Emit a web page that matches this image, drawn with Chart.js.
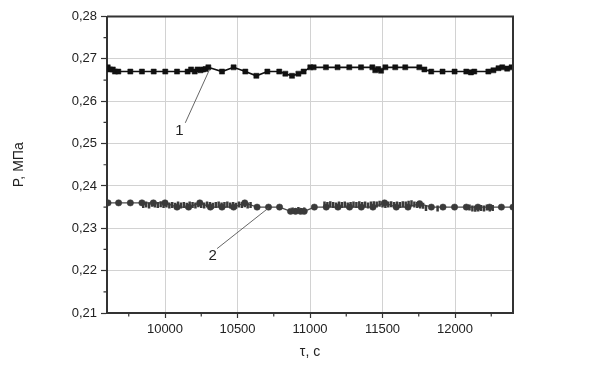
<!DOCTYPE html>
<html><head><meta charset="utf-8">
<script src="https://cdn.jsdelivr.net/npm/chart.js@4.4.1/dist/chart.umd.min.js"></script>
<style>html,body{margin:0;padding:0;background:#fff}#w{width:595px;height:368px}</style>
</head><body><div id="w"><canvas id="c" width="595" height="368"></canvas></div>
<script>
// ---- data ----
const xTicks = [10000, 10500, 11000, 11500, 12000];
const yTicks = [0.21, 0.22, 0.23, 0.24, 0.25, 0.26, 0.27, 0.28];
const xMinor = [9750, 10250, 10750, 11250, 11750, 12250];
const yMinor = [0.215, 0.225, 0.235, 0.245, 0.255, 0.265, 0.275];

const s1x = [9605, 9620, 9640, 9655, 9678, 9761, 9841, 9922, 10002, 10083, 10156, 10180, 10205, 10225, 10245, 10262, 10280, 10299, 10393, 10473, 10554, 10630, 10706, 10788, 10830, 10876, 10920, 10956, 11002, 11025, 11110, 11190, 11271, 11352, 11430, 11450, 11470, 11490, 11520, 11588, 11657, 11754, 11789, 11836, 11914, 11997, 12078, 12110, 12133, 12230, 12265, 12300, 12326, 12360, 12390];
const s1y = [0.268, 0.2675, 0.2675, 0.267, 0.267, 0.267, 0.267, 0.267, 0.267, 0.267, 0.267, 0.2675, 0.267, 0.2675, 0.2673, 0.2675, 0.2676, 0.268, 0.267, 0.268, 0.267, 0.266, 0.267, 0.267, 0.2665, 0.266, 0.2665, 0.267, 0.268, 0.268, 0.268, 0.268, 0.268, 0.268, 0.268, 0.2673, 0.2676, 0.2672, 0.268, 0.268, 0.268, 0.268, 0.2675, 0.267, 0.267, 0.267, 0.267, 0.2668, 0.267, 0.267, 0.2673, 0.2678, 0.268, 0.2677, 0.268];

const s2x = [9607, 9680, 9761, 9841, 9920, 10000, 10083, 10163, 10240, 10313, 10393, 10473, 10550, 10635, 10714, 10790, 10866, 10900, 10935, 10960, 11030, 11112, 11193, 11273, 11354, 11434, 11514, 11595, 11676, 11756, 11837, 11917, 11997, 12078, 12158, 12239, 12320, 12400];
const s2y = [0.236, 0.236, 0.236, 0.236, 0.236, 0.236, 0.235, 0.235, 0.236, 0.235, 0.235, 0.235, 0.236, 0.235, 0.235, 0.235, 0.234, 0.234, 0.234, 0.234, 0.235, 0.235, 0.235, 0.235, 0.235, 0.235, 0.236, 0.235, 0.235, 0.2358, 0.235, 0.235, 0.235, 0.235, 0.235, 0.235, 0.235, 0.235];

// dense small marks of series 2
const d2x = [9850, 9870, 9890, 9910, 9930, 9950, 9970, 9990, 10010, 10030, 10050, 10070, 10090, 10110, 10130, 10150, 10170, 10190, 10210, 10230, 10250, 10270, 10290, 10310, 10330, 10350, 10370, 10390, 10410, 10430, 10450, 10470, 10490, 10510, 10530, 10550, 10570, 10590,
  10880, 10900, 10920, 10940, 10960,
  11100, 11120, 11140, 11160, 11180, 11200, 11220, 11240, 11260, 11280, 11300, 11320, 11340, 11360, 11380, 11400, 11420, 11440, 11460, 11480, 11500, 11520, 11540, 11560, 11580, 11600, 11620, 11640, 11660, 11680, 11700, 11720, 11740, 11760, 11780, 11800, 11880,
  12100, 12120, 12140, 12160, 12180, 12200, 12220, 12240, 12260, 12280, 12300];
const d2y = [0.2355, 0.2356, 0.2354, 0.2358, 0.2356, 0.2355, 0.2357, 0.2355, 0.2356, 0.2354, 0.2355, 0.2353, 0.2356, 0.2354, 0.2355, 0.2353, 0.2356, 0.2355, 0.2354, 0.2357, 0.2355, 0.2354, 0.2356, 0.2355, 0.2353, 0.2355, 0.2356, 0.2354, 0.2355, 0.2356, 0.2354, 0.2355, 0.2353, 0.2356, 0.2355, 0.2357, 0.2354, 0.2355,
  0.2342, 0.2341, 0.2343, 0.2341, 0.2342,
  0.2356, 0.2355, 0.2357, 0.2355, 0.2354, 0.2356, 0.2355, 0.2356, 0.2354, 0.2355, 0.2356, 0.2355, 0.2357, 0.2355, 0.2356, 0.2354, 0.2356, 0.2357, 0.2356, 0.2358, 0.2356, 0.2355, 0.2356, 0.2357, 0.2355, 0.2356, 0.2355, 0.2357, 0.2356, 0.2358, 0.2359, 0.2356, 0.2355, 0.2354, 0.2353,
  0.2348, 0.2347, 0.2349, 0.2347, 0.2346, 0.2347, 0.2348, 0.2347, 0.2349, 0.2347, 0.2348];

// annotation labels and leader lines (data coordinates)
const annText = ['1', '2'];
const annLabelX = [10099, 10328];
const annLabelY = [0.2530, 0.2236];
const annLineX = [[10140, 10306], [10359, 10714]];
const annLineY = [[0.2549, 0.2674], [0.2252, 0.2348]];

const xTitle = 'τ, с';
const yTitle = 'P, МПа';

const pts = (xs, ys) => xs.map((x, i) => ({x: x, y: ys[i]}));

const extras = {
  id: 'extras',
  afterDraw(chart) {
    const ctx = chart.ctx, a = chart.chartArea;
    const xs = chart.scales.x, ys = chart.scales.y;
    ctx.save();
    // top and right frame
    ctx.strokeStyle = '#333'; ctx.lineWidth = 2;
    ctx.beginPath();
    ctx.moveTo(a.left, a.top); ctx.lineTo(a.right, a.top); ctx.lineTo(a.right, a.bottom);
    ctx.stroke();
    // minor ticks
    ctx.lineWidth = 1.2;
    ctx.beginPath();
    xMinor.forEach(v => { const p = xs.getPixelForValue(v); ctx.moveTo(p, a.bottom); ctx.lineTo(p, a.bottom + 3.5); });
    yMinor.forEach(v => { const p = ys.getPixelForValue(v); ctx.moveTo(a.left, p); ctx.lineTo(a.left - 3.5, p); });
    ctx.stroke();
    // annotations
    ctx.strokeStyle = '#555'; ctx.lineWidth = 0.9;
    annLineX.forEach((lx, i) => {
      ctx.beginPath();
      ctx.moveTo(xs.getPixelForValue(lx[0]), ys.getPixelForValue(annLineY[i][0]));
      ctx.lineTo(xs.getPixelForValue(lx[1]), ys.getPixelForValue(annLineY[i][1]));
      ctx.stroke();
    });
    ctx.fillStyle = '#222';
    ctx.font = '15px "Liberation Sans", Arial, sans-serif';
    ctx.textAlign = 'center'; ctx.textBaseline = 'middle';
    annText.forEach((t, i) => ctx.fillText(t, xs.getPixelForValue(annLabelX[i]), ys.getPixelForValue(annLabelY[i])));
    ctx.restore();
  }
};

const font = {family: '"Liberation Sans", Arial, sans-serif', size: 13};

new Chart(document.getElementById('c'), {
  type: 'scatter',
  data: {
    datasets: [
      {data: pts(d2x, d2y), showLine: false, pointStyle: 'line', rotation: 90, pointRadius: 3, borderColor: '#3a3a3a', backgroundColor: '#3a3a3a', borderWidth: 2.5},
      {data: pts(s2x, s2y), showLine: true, borderColor: '#4a4a4a', borderWidth: 1.3, pointStyle: 'circle', pointRadius: 3.2, backgroundColor: '#3a3a3a', pointBorderColor: '#3a3a3a', pointBorderWidth: 0.5},
      {data: pts(s1x, s1y), showLine: true, borderColor: '#111', borderWidth: 1.6, pointStyle: 'rect', pointRadius: 3.6, backgroundColor: '#111', pointBorderColor: '#111', pointBorderWidth: 0.5}
    ]
  },
  options: {
    responsive: false, animation: false,
    layout: {padding: {left: 0, right: 82, top: 16.5, bottom: 0}},
    plugins: {legend: {display: false}, tooltip: {enabled: false}},
    scales: {
      x: {
        type: 'linear', min: 9600, max: 12400,
        afterBuildTicks: s => { s.ticks = xTicks.map(v => ({value: v})); },
        afterFit: s => { s.height = 55; },
        grid: {color: '#d2d2d2', lineWidth: 1, tickColor: '#333', tickLength: 5, tickWidth: 1.2},
        border: {color: '#333', width: 2},
        ticks: {color: '#222', font: font, padding: 4, maxRotation: 0, callback: v => String(v)},
        title: {display: true, text: xTitle, color: '#222', font: {family: font.family, size: 14}, padding: {top: 0, bottom: 7}}
      },
      y: {
        type: 'linear', min: 0.21, max: 0.28,
        afterBuildTicks: s => { s.ticks = yTicks.map(v => ({value: v})); },
        afterFit: s => { s.width = 107; },
        grid: {color: '#d2d2d2', lineWidth: 1, tickColor: '#333', tickLength: 6, tickWidth: 1.2},
        border: {color: '#333', width: 2},
        ticks: {color: '#222', font: font, padding: 4, callback: v => v.toFixed(2).replace('.', ',')},
        title: {display: true, text: yTitle, color: '#222', font: {family: font.family, size: 14}, padding: {top: 11, bottom: 0}}
      }
    }
  },
  plugins: [extras]
});
</script>
</body></html>
